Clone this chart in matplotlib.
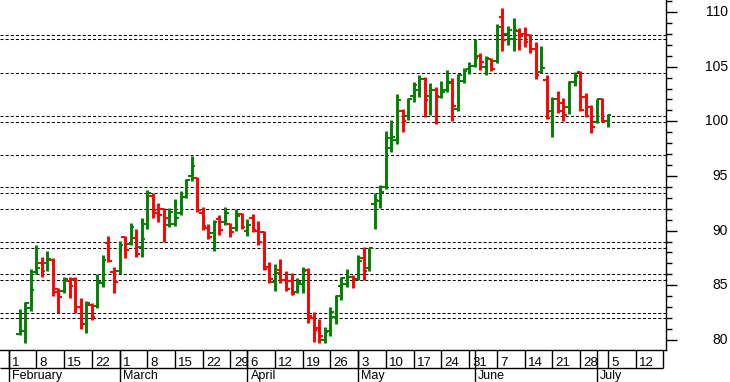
import matplotlib
matplotlib.use("Agg")
import matplotlib.pyplot as plt
import numpy as np
from matplotlib.ticker import MultipleLocator
from matplotlib.transforms import blended_transform_factory

plt.rcParams['font.family'] = ['Liberation Sans', 'DejaVu Sans']
plt.rcParams['lines.scale_dashes'] = False

# ---- data: daily OHLC, first session = trading-day index 2 (Feb 3) ----
first_session = 2
opens = [80.5, 80.8, 82.9, 86.2, 87.0, 87.0, 87.3, 84.7, 84.5, 85.4,
         85.6, 83.05, 81.5, 83.2, 83.1, 85.2, 88.9, 86.2, 86.3, 89.4,
         88.8, 89.3, 88.5, 90.6, 93.2, 91.6, 92.0, 90.5, 90.6, 91.6,
         93.1, 95.0, 94.8, 91.6, 90.2, 89.8, 91.1, 90.8, 90.6, 90.2,
         91.5, 90.0, 91.2, 90.0, 89.9, 86.7, 85.3, 86.4, 85.5, 85.4,
         84.4, 85.1, 86.4, 82.0, 81.1, 80.0, 80.8, 82.13, 84.9, 85.1,
         85.8, 85.6, 87.5, 86.6, 92.4, 92.7, 94.0, 97.6, 98.3, 100.9,
         100.5, 102.3, 102.9, 103.9, 102.3, 102.9, 102.2, 102.9, 103.5, 101.1,
         103.7, 104.8, 105.1, 106.0, 105.0, 105.7, 105.5, 109.5, 108.0, 107.5,
         108.3, 108.0, 107.9, 106.6, 104.5, 103.8, 100.9, 102.0, 101.65, 101.3,
         103.6, 104.5, 102.2, 101.3, 99.9, 102.0, 100.0]
highs = [82.81, 83.47, 86.46, 88.66, 87.56, 88.14, 87.53, 84.79, 85.79, 85.73,
         85.73, 83.82, 83.6, 83.35, 86.01, 87.74, 89.51, 86.71, 89.05, 89.51,
         90.67, 90.12, 91.19, 93.72, 93.41, 92.56, 92.1, 92.04, 92.9, 93.63,
         94.7, 96.86, 94.94, 92.19, 90.58, 90.98, 91.43, 92.13, 90.73, 91.95,
         91.64, 91.07, 91.52, 90.88, 89.97, 87.16, 86.95, 87.38, 86.34, 86.1,
         85.64, 86.64, 86.55, 82.59, 81.89, 81.16, 82.99, 84.12, 85.79, 86.46,
         85.94, 87.77, 88.53, 88.44, 93.41, 94.14, 99.15, 100.12, 102.47, 101.1,
         102.1, 103.63, 104.24, 104.02, 103.48, 103.11, 103.69, 104.7, 103.94, 104.33,
         104.85, 105.45, 107.5, 106.22, 106.0, 105.77, 108.9, 110.34, 108.7, 109.48,
         108.51, 108.66, 107.99, 107.23, 106.89, 104.24, 102.25, 102.77, 102.1, 103.66,
         104.54, 104.6, 102.56, 101.49, 102.04, 102.1, 100.67]
lows = [80.43, 79.76, 82.68, 86.04, 85.73, 86.34, 84.02, 82.44, 84.33, 83.82,
        82.5, 81.03, 80.67, 81.8, 82.9, 84.88, 87.16, 84.27, 86.04, 87.47,
        88.69, 87.62, 87.56, 90.12, 91.19, 90.82, 89.0, 90.36, 90.45, 91.43,
        93.02, 94.54, 91.68, 90.06, 89.24, 88.17, 89.6, 90.52, 89.45, 89.97,
        90.12, 89.54, 89.9, 88.69, 86.4, 85.18, 84.51, 85.24, 84.51, 84.12,
        84.27, 84.33, 81.52, 79.85, 79.76, 79.7, 80.37, 81.46, 83.66, 84.88,
        84.79, 85.49, 85.49, 86.34, 90.12, 92.1, 93.78, 97.22, 97.93, 99.05,
        100.12, 101.8, 102.25, 100.37, 100.58, 99.73, 102.11, 102.71, 100.06, 100.94,
        103.53, 104.33, 105.0, 104.7, 104.24, 104.6, 105.3, 106.46, 106.98, 106.46,
        106.52, 106.83, 106.22, 103.84, 104.39, 100.19, 98.59, 100.79, 100.06, 100.64,
        103.23, 100.94, 100.42, 98.91, 99.82, 99.97, 99.51]
closes = [80.8, 83.35, 84.6, 86.6, 86.3, 87.4, 84.4, 83.9, 85.6, 84.9,
          83.05, 81.5, 83.35, 82.1, 85.3, 87.3, 87.2, 85.33, 88.7, 88.2,
          90.36, 87.9, 89.2, 93.47, 91.9, 91.4, 91.2, 91.74, 91.2, 93.05,
          94.6, 95.9, 91.89, 90.4, 89.4, 90.8, 90.1, 91.6, 89.9, 91.34,
          90.3, 90.5, 90.1, 89.0, 86.5, 85.6, 86.1, 85.5, 84.7, 84.2,
          85.33, 86.3, 82.2, 80.9, 80.4, 80.76, 82.6, 84.0, 85.7, 85.8,
          85.49, 87.2, 86.3, 88.4, 92.8, 93.5, 98.5, 98.6, 101.95, 100.0,
          102.0, 103.3, 103.9, 101.95, 102.9, 102.3, 102.7, 103.6, 101.4, 104.2,
          104.6, 105.1, 105.8, 105.4, 105.8, 104.8, 108.6, 107.4, 108.4, 108.4,
          107.8, 107.3, 106.6, 104.2, 104.85, 100.3, 102.0, 100.95, 100.6, 103.6,
          104.15, 101.04, 100.5, 99.5, 102.0, 100.03, 100.6]

# horizontal dashed reference levels
levels = [107.9, 107.53, 104.42, 100.46, 99.94, 96.92, 93.97, 93.47, 91.98,
          88.94, 88.44, 86.04, 85.49, 82.44, 81.99]

# date axis (trading-day index positions and labels)
week_pos = [0, 5, 10, 15, 20, 25, 30, 35, 40, 43, 48, 53, 58, 63, 68, 73, 78,
            83, 88, 93, 98, 103, 108, 113, 118]
week_lab = ["1", "8", "15", "22", "1", "8", "15", "22", "29", "6", "12", "19",
            "26", "3", "10", "17", "24", "31", "7", "14", "21", "28", "5", "12", ""]
month_pos = [0, 20, 43, 63, 84, 106]
month_lab = ["February", "March", "April", "May", "June", "July"]

GREEN = "#008000"
RED = "#ff0000"

W, H = 730, 382
fig = plt.figure(figsize=(W / 100, H / 100), dpi=100)
fig.patch.set_facecolor("white")

xlim = (-1.532, 118.47)
ax = fig.add_axes([0, 32 / H, 666 / W, 350 / H])
ax.set_xlim(*xlim)
ax.set_ylim(79.08, 111.1)
for s in ("left", "top"):
    ax.spines[s].set_visible(False)
for s in ("right", "bottom"):
    ax.spines[s].set_linewidth(1.0)
    ax.spines[s].set_color("black")
ax.set_xticks([])
ax.yaxis.tick_right()
ax.yaxis.set_major_locator(MultipleLocator(5))
ax.yaxis.set_minor_locator(MultipleLocator(1))
ax.tick_params(axis="y", which="major", length=7.7, width=1.0, labelright=False)
ax.tick_params(axis="y", which="minor", length=4.1, width=1.0)

tr = blended_transform_factory(ax.transAxes, ax.transData)
for v in range(80, 111, 5):
    ax.text(728 / 666, v, str(v), transform=tr, ha="right", va="center",
            fontsize=10, clip_on=False)

for lv in levels:
    ax.axhline(lv, color="black", lw=0.75, linestyle=(0, (2.2, 1.5)), zorder=1)

o = np.array(opens); h = np.array(highs); l = np.array(lows); c = np.array(closes)
x = np.arange(len(o)) + first_session
cols = [GREEN if cc >= oo else RED for oo, cc in zip(o, c)]
ax.vlines(x, l, h, colors=cols, lw=2.1, zorder=3, capstyle="butt")
ax.hlines(o, x - 0.65, x, colors=cols, lw=1.4, zorder=3)
ax.hlines(c, x, x + 0.65, colors=cols, lw=1.4, zorder=3)

# date axis
ax2 = fig.add_axes([0, 0, 666 / W, 32 / H])
ax2.set_xlim(*xlim)
ax2.set_ylim(32, 0)
ax2.axis("off")
ax2.hlines(18, xlim[0], 118, color="black", lw=1.0)
ax2.vlines(week_pos, 0, 18, color="black", lw=1.0)
ax2.vlines(month_pos, 0, 32, color="black", lw=1.0)
for p, t in zip(week_pos, week_lab):
    ax2.text(p + 0.6, 16, t, ha="left", va="baseline", fontsize=9.5)
for p, t in zip(month_pos, month_lab):
    ax2.text(p + 0.6, 29.2, t, ha="left", va="baseline", fontsize=9, clip_on=False)

fig.savefig("out.png", dpi=100, facecolor="white")
